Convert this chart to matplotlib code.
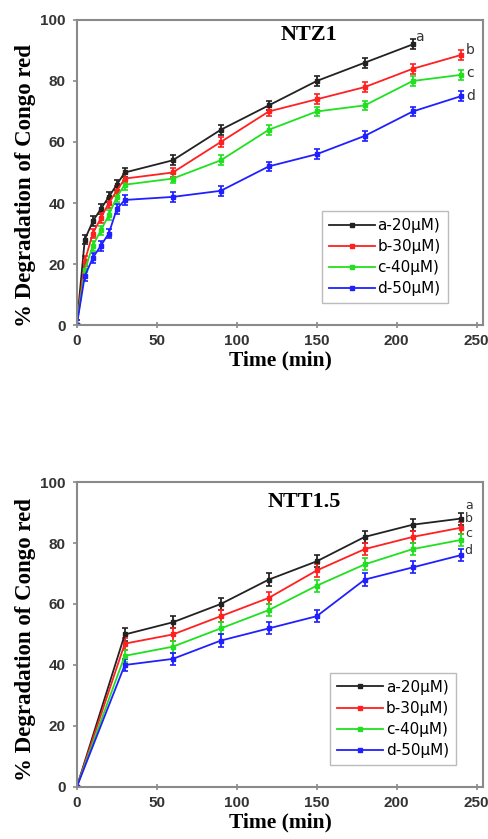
import matplotlib
matplotlib.use("Agg")
import matplotlib.pyplot as plt
from matplotlib.lines import Line2D

# NTZ1 kinetics
t_ntz = [0, 5, 10, 15, 20, 25, 30, 60, 90, 120, 150, 180, 210, 240]
ntz_a = [0, 28, 34, 38, 42, 46, 50, 54, 64, 72, 80, 86, 92]
ntz_b = [0, 21, 30, 35, 40, 44, 48, 50, 60, 70, 74, 78, 84, 88.5]
ntz_c = [0, 18, 26, 31, 36, 42, 46, 48, 54, 64, 70, 72, 80, 82]
ntz_d = [0, 16, 22, 26, 30, 38, 41, 42, 44, 52, 56, 62, 70, 75]
ntz_err = 1.6

# NTT1.5 kinetics
t_ntt = [0, 30, 60, 90, 120, 150, 180, 210, 240]
ntt_a = [0, 50, 54, 60, 68, 74, 82, 86, 88]
ntt_b = [0, 47, 50, 56, 62, 71, 78, 82, 85]
ntt_c = [0, 43, 46, 52, 58, 66, 73, 78, 81]
ntt_d = [0, 40, 42, 48, 52, 56, 68, 72, 76]
ntt_err = 2.0

series_labels = ["a-20\u03bcM)", "b-30\u03bcM)", "c-40\u03bcM)", "d-50\u03bcM)"]
end_letters = ["a", "b", "c", "d"]
colors = ["#222222", "#ff2020", "#20e020", "#2020ff"]

ntz_letter_pos = [(214, 94.5), (246, 90), (246, 82.5), (246, 75)]
ntt_letter_pos = [(245, 92.3), (245, 88), (245, 83), (245, 77.5)]

fig = plt.figure(figsize=(4.89, 8.39), dpi=100)
ax1 = fig.add_axes([0.157, 0.6126, 0.831, 0.3636])
ax2 = fig.add_axes([0.157, 0.062, 0.831, 0.3635])

spine_col = "#8a8a8a"


def draw(ax, t, series, err, title, letter_pos, title_xy, leg_anchor,
         ylab_y, letter_size):
    handles = []
    for ys, col, lab in zip(series, colors, series_labels):
        ax.errorbar(t[:len(ys)], ys, yerr=err, color=col, lw=1.3,
                    marker="s", ms=3.5, mec=col, mfc=col,
                    elinewidth=1.3, capsize=2.5, capthick=1.2)
        handles.append(Line2D([], [], color=col, lw=1.3, marker="s", ms=3,
                              mec=col, mfc=col, label=lab))
    for (x, y), letter in zip(letter_pos, end_letters):
        ax.text(x, y, letter, fontsize=letter_size, color="#333333",
                family="DejaVu Sans", va="center", ha="center")
    ax.text(title_xy[0], title_xy[1], title, fontsize=16, fontweight="bold",
            family="Liberation Serif", ha="center", va="center")
    ax.set_xlim(0, 254)
    ax.set_ylim(0, 100)
    ax.set_xticks([0, 50, 100, 150, 200, 250])
    ax.set_yticks([0, 20, 40, 60, 80, 100])
    for sp in ax.spines.values():
        sp.set_color(spine_col)
        sp.set_linewidth(1.5)
    ax.tick_params(axis="y", direction="out", length=3, color=spine_col,
                   width=1.2, pad=5)
    ax.tick_params(axis="x", direction="inout", length=5, color=spine_col,
                   width=1.2, pad=4)
    for lab in ax.get_xticklabels() + ax.get_yticklabels():
        lab.set_fontfamily("Liberation Sans")
        lab.set_fontweight("bold")
        lab.set_fontsize(11)
        lab.set_color("#333333")
    ax.set_xlabel("Time (min)", fontsize=15.5, fontweight="bold",
                  family="Liberation Serif", labelpad=2)
    ax.set_ylabel("% Degradation of Congo red", fontsize=16.5,
                  fontweight="bold", family="Liberation Serif")
    ax.yaxis.set_label_coords(-0.10, ylab_y)
    leg = ax.legend(handles=handles, loc="lower left", bbox_to_anchor=leg_anchor,
                    prop={"family": "DejaVu Sans", "size": 11},
                    frameon=True, fancybox=False, edgecolor="#aaaaaa",
                    handlelength=3.0, handletextpad=0.2, labelspacing=0.4,
                    borderpad=0.45, borderaxespad=0)
    leg.get_frame().set_linewidth(1.0)


draw(ax1, t_ntz, [ntz_a, ntz_b, ntz_c, ntz_d], ntz_err, "NTZ1",
     ntz_letter_pos, (145, 95), (0.603, 0.072), 0.456, 10)
draw(ax2, t_ntt, [ntt_a, ntt_b, ntt_c, ntt_d], ntt_err, "NTT1.5",
     ntt_letter_pos, (142, 93.5), (0.623, 0.072), 0.482, 9)

fig.savefig("out.png", dpi=100)
